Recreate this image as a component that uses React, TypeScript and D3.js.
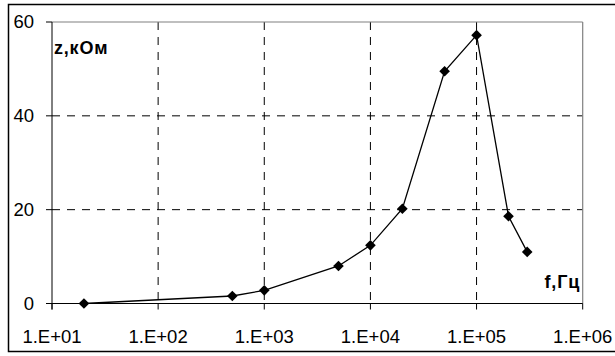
import React from "react";
import * as d3 from "d3";

const frequencies = [20, 500, 1000, 5000, 10000, 20000, 50000, 100000, 200000, 300000];
const impedance = [0, 1.6, 2.8, 8.0, 12.4, 20.2, 49.5, 57.2, 18.6, 11.0];
const xTicks = [1e1, 1e2, 1e3, 1e4, 1e5, 1e6];
const xTickLabels = ["1.E+01", "1.E+02", "1.E+03", "1.E+04", "1.E+05", "1.E+06"];
const yTicks = [0, 20, 40, 60];
const yLabel = "z,кОм";
const xLabel = "f,Гц";

const W = 615;
const H = 356;
const plot = { left: 52, top: 22, right: 582.7, bottom: 303.5 };

export default function App() {
  const x = d3.scaleLog().domain([1e1, 1e6]).range([plot.left, plot.right]);
  const y = d3.scaleLinear().domain([0, 60]).range([plot.bottom, plot.top]);
  const line = d3
    .line<number>()
    .x((_, i) => x(frequencies[i]))
    .y((d) => y(d));
  const font = "'Liberation Sans', Arial, sans-serif";
  const diamond = d3.symbol().type(d3.symbolDiamond2).size(72);

  return (
    <svg
      width={W}
      height={H}
      style={{ position: "absolute", left: 0, top: 0, background: "#fff" }}
      fontFamily={font}
    >
      <rect x={8.5} y={4.5} width={W + 10} height={347} fill="#fff" stroke="#000" strokeWidth={1.5} />
      {xTicks.slice(1, -1).map((t) => (
        <line
          key={"gx" + t}
          x1={x(t)}
          x2={x(t)}
          y1={plot.top}
          y2={plot.bottom}
          stroke="#000"
          strokeWidth={1}
          strokeDasharray="8,7"
        />
      ))}
      {yTicks.slice(1, -1).map((t) => (
        <line
          key={"gy" + t}
          x1={plot.left}
          x2={plot.right}
          y1={y(t)}
          y2={y(t)}
          stroke="#000"
          strokeWidth={1}
          strokeDasharray="8,7"
        />
      ))}
      <line x1={plot.left} x2={plot.right} y1={plot.top} y2={plot.top} stroke="#808080" strokeWidth={1.2} />
      <line x1={plot.right} x2={plot.right} y1={plot.top} y2={plot.bottom} stroke="#808080" strokeWidth={1.2} />
      <line x1={plot.left} x2={plot.left} y1={plot.top} y2={plot.bottom + 6} stroke="#000" strokeWidth={1} />
      <line x1={plot.left - 6} x2={plot.right} y1={plot.bottom} y2={plot.bottom} stroke="#000" strokeWidth={1} />
      {yTicks.map((t) => (
        <g key={"yt" + t}>
          <line x1={plot.left - 6} x2={plot.left} y1={y(t)} y2={y(t)} stroke="#000" />
          <text x={34} y={y(t)} dy="0.35em" textAnchor="end" fontSize={18.5}>
            {t}
          </text>
        </g>
      ))}
      {xTicks.map((t, i) => (
        <g key={"xt" + t}>
          <line x1={x(t)} x2={x(t)} y1={plot.bottom} y2={plot.bottom + 6} stroke="#000" />
          <text x={x(t)} y={343} textAnchor="middle" fontSize={18.5}>
            {xTickLabels[i]}
          </text>
        </g>
      ))}
      <path d={line(impedance) || ""} fill="none" stroke="#000" strokeWidth={1.3} />
      {impedance.map((v, i) => (
        <path
          key={"m" + i}
          d={diamond() || ""}
          transform={`translate(${x(frequencies[i])},${y(v)})`}
          fill="#000"
        />
      ))}
      <text x={54} y={54} fontSize={18} fontWeight="bold" letterSpacing={0.8}>
        {yLabel}
      </text>
      <text x={580} y={288} textAnchor="end" fontSize={18} fontWeight="bold" letterSpacing={0.8}>
        {xLabel}
      </text>
    </svg>
  );
}
